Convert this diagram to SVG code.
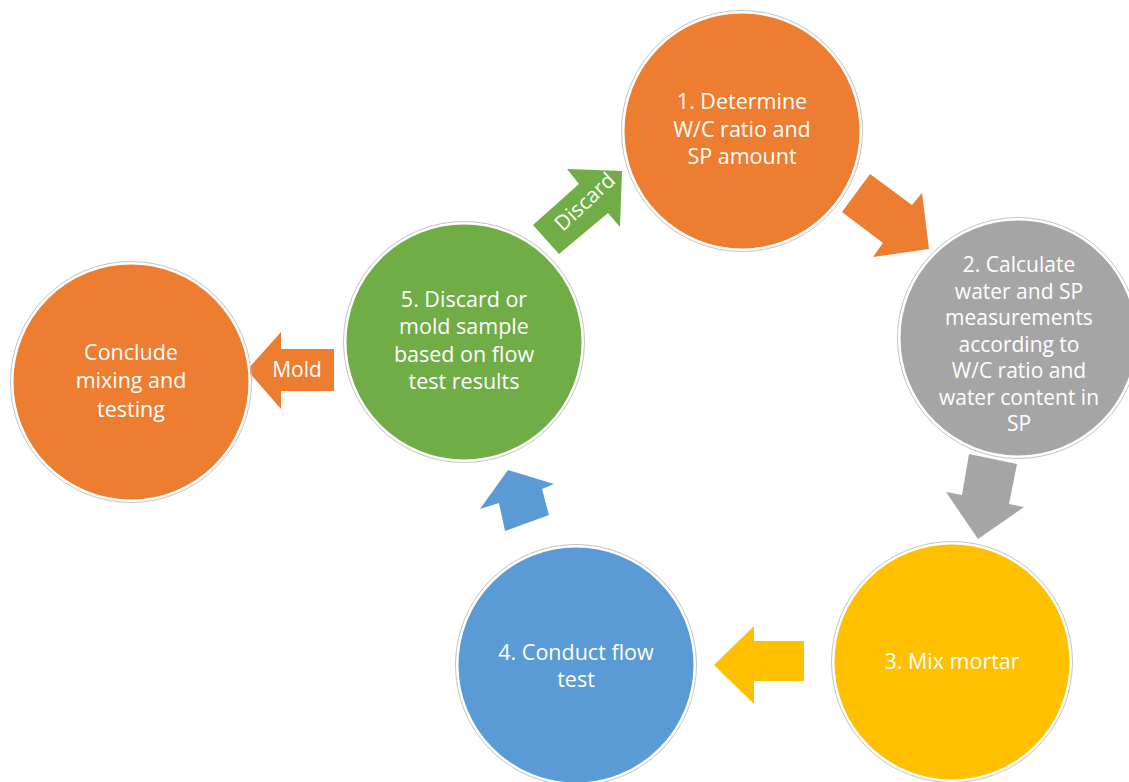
<svg xmlns="http://www.w3.org/2000/svg" width="1129" height="782" viewBox="0 0 1129 782">
<style>
.ring{stroke:#ffffff;stroke-width:2}
.out{fill:none;stroke:#c4c4c4;stroke-width:1}
.t{font-family:"Open Sans","Liberation Sans",sans-serif;font-size:21.5px;fill:#ffffff;text-anchor:middle}
.s{font-size:21px}
.o{fill:#ED7D31}.g{fill:#A5A5A5}.y{fill:#FFC000}.b{fill:#5B9BD5}.gr{fill:#70AD47}
</style>
<rect width="1129" height="782" fill="#ffffff"/>
<g id="connectors">
<polygon class="o" points="870,174 912,205 922,193 929,249 873,257 883,243 842,212"/>
<polygon class="g" points="969,454 1017,464 1009,504 1024,507 978,539 946,492 962,495"/>
<polygon class="y" points="804,641 804,681 754,681 754,704 714,665 754,626 754,641"/>
<polygon class="b" points="508,470 554,484 542,489 549,515 505,531 499,503 480,509"/>
<g id="discard-arrow">
<polygon class="gr" points="533,225 579,184 567,169 622,171 620,227 608,213 559,254"/>
<text class="t" transform="translate(585,202) rotate(-43)" y="7" style="font-size:21px">Discard</text>
</g>
<g id="mold-arrow">
<polygon class="o" points="334,349 334,391 281,391 281,409 247,370 281,332 281,349"/>
<text class="t" x="297" y="377" style="font-size:21px">Mold</text>
</g>
</g>
<g id="node1">
<circle cx="742" cy="131" r="120.5" class="out"/>
<circle cx="742" cy="131" r="118.5" class="o ring"/>
<text class="t" x="742" y="109">1. Determine</text>
<text class="t" x="742" y="137">W/C ratio and</text>
<text class="t" x="742" y="164">SP amount</text>
</g>
<g id="node2">
<circle cx="1018" cy="338" r="120.5" class="out"/>
<circle cx="1018" cy="338" r="118.5" class="g ring"/>
<text class="t s" x="1019" y="272">2. Calculate</text>
<text class="t s" x="1019" y="299">water and SP</text>
<text class="t s" x="1019" y="325">measurements</text>
<text class="t s" x="1019" y="352">according to</text>
<text class="t s" x="1019" y="378">W/C ratio and</text>
<text class="t s" x="1019" y="405">water content in</text>
<text class="t s" x="1019" y="431">SP</text>
</g>
<g id="node3">
<circle cx="952" cy="662" r="120.5" class="out"/>
<circle cx="952" cy="662" r="118.5" class="y ring"/>
<text class="t" x="952" y="669">3. Mix mortar</text>
</g>
<g id="node4">
<circle cx="576" cy="665" r="120.5" class="out"/>
<circle cx="576" cy="665" r="118.5" class="b ring"/>
<text class="t" x="576" y="660">4. Conduct flow</text>
<text class="t" x="576" y="687">test</text>
</g>
<g id="node5">
<circle cx="464" cy="342" r="120.5" class="out"/>
<circle cx="464" cy="342" r="118.5" class="gr ring"/>
<text class="t" x="464" y="307">5. Discard or</text>
<text class="t" x="464" y="334">mold sample</text>
<text class="t" x="464" y="362">based on flow</text>
<text class="t" x="464" y="389">test results</text>
</g>
<g id="conclude">
<circle cx="131" cy="382" r="120.5" class="out"/>
<circle cx="131" cy="382" r="118.5" class="o ring"/>
<text class="t" x="131" y="360">Conclude</text>
<text class="t" x="131" y="388">mixing and</text>
<text class="t" x="131" y="417">testing</text>
</g>
</svg>
